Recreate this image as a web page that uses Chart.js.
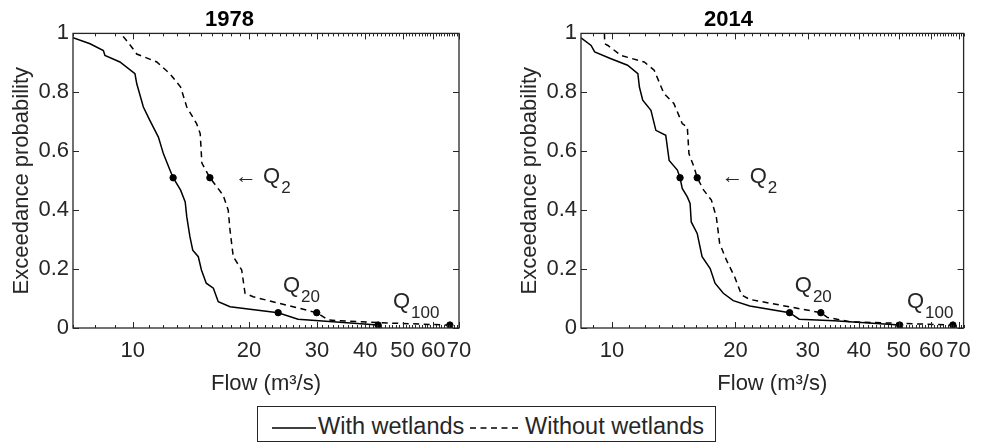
<!DOCTYPE html>
<html>
<head>
<meta charset="utf-8">
<script src="https://cdn.jsdelivr.net/npm/chart.js@4.4.1/dist/chart.umd.min.js"></script>
<style>
  body { margin: 0; background: #fff; width: 981px; height: 444px; position: relative; overflow: hidden;
         font-family: 'Liberation Sans', Arial, sans-serif; color: #262626; }
  canvas { position: absolute; top: 0; }
  #c1978 { left: 0; }
  #c2014 { left: 490px; }
  #legend { position: absolute; left: 257px; top: 406px; width: 459px; height: 36px; box-sizing: border-box;
            border: 1px solid #262626; background: #fff; font-size: 23.5px; }
  #legend span, #legend svg { position: absolute; }
  #legend span { top: 6px; white-space: nowrap; }
</style>
</head>
<body>
<canvas id="c1978" width="490" height="400"></canvas>
<canvas id="c2014" width="491" height="400"></canvas>
<div id="legend">
  <svg style="left:14px;top:19px" width="44" height="4"><line x1="0" y1="2" x2="44" y2="2" stroke="#000" stroke-width="1.4"/></svg>
  <span style="left:60px">With wetlands</span>
  <svg style="left:212px;top:19px" width="51" height="4"><line x1="0" y1="2" x2="51" y2="2" stroke="#000" stroke-width="1.4" stroke-dasharray="6,4.5"/></svg>
  <span style="left:267px">Without wetlands</span>
</div>
<script>
// 1978
const flow78With = [7.0, 7.75, 8.39, 8.47, 9.26, 10.13, 10.24, 10.65, 11.07, 11.65, 12.0, 12.48, 12.72, 13.3, 13.67, 13.8, 14.06, 14.3, 14.78, 15.06, 15.5, 16.17, 16.65, 17.86, 23.8, 26.8, 43.2];
const prob78With = [0.985, 0.965, 0.942, 0.925, 0.903, 0.863, 0.829, 0.75, 0.705, 0.648, 0.592, 0.536, 0.51, 0.468, 0.428, 0.377, 0.31, 0.264, 0.242, 0.197, 0.152, 0.135, 0.089, 0.072, 0.052, 0.03, 0.01];
const flow78Without = [9.44, 9.93, 10.24, 11.54, 12.48, 13.3, 13.8, 14.63, 14.95, 15.1, 15.84, 17.14, 17.67, 17.86, 18.21, 19.15, 19.53, 20.5, 29.96, 32.1, 43.5, 66.3];
const prob78Without = [0.99, 0.954, 0.93, 0.903, 0.863, 0.818, 0.75, 0.694, 0.66, 0.56, 0.51, 0.451, 0.4, 0.332, 0.242, 0.197, 0.118, 0.106, 0.052, 0.027, 0.018, 0.01];
const q78With = [12.72, 23.8, 43.2];
const q78Without = [15.84, 29.96, 66.3];

// 2014
const flow14With = [8.4, 8.89, 9.07, 9.94, 10.91, 11.56, 11.66, 11.88, 12.44, 12.79, 13.52, 13.78, 14.43, 14.65, 14.83, 15.26, 15.5, 15.6, 16.13, 16.58, 17.35, 17.83, 18.68, 19.75, 21.67, 27.1, 28.6, 34.8, 50.3];
const prob14With = [0.985, 0.959, 0.937, 0.914, 0.892, 0.863, 0.818, 0.773, 0.739, 0.671, 0.654, 0.569, 0.536, 0.51, 0.474, 0.445, 0.423, 0.36, 0.321, 0.242, 0.202, 0.152, 0.118, 0.093, 0.075, 0.052, 0.03, 0.025, 0.01];
const flow14Without = [9.58, 9.6, 9.77, 10.52, 11.98, 12.67, 13.38, 14.15, 14.83, 15.26, 15.4, 15.84, 16.13, 16.73, 17.47, 17.96, 18.3, 19.0, 19.9, 20.7, 21.67, 32.3, 33.5, 38.1, 67.8];
const prob14Without = [1.0, 0.965, 0.959, 0.925, 0.903, 0.875, 0.796, 0.762, 0.694, 0.682, 0.592, 0.547, 0.51, 0.468, 0.434, 0.377, 0.287, 0.231, 0.174, 0.112, 0.097, 0.052, 0.036, 0.021, 0.01];
const q14With = [14.65, 27.1, 50.3];
const q14Without = [16.13, 32.3, 67.8];

// exceedance of Q2, Q20, Q100 as drawn
const qProb = [0.51, 0.052, 0.01];

const xTicks = [10, 20, 30, 40, 50, 60, 70];
const yTicks = [0, 0.2, 0.4, 0.6, 0.8, 1];

const ink = '#262626';
Chart.defaults.font.family = "'Liberation Sans', Arial, sans-serif";
Chart.defaults.font.size = 22;
Chart.defaults.color = ink;

function pts(xs, ys) {
  return xs.map((x, i) => ({ x: x, y: ys[i] }));
}

// MATLAB-like box with inward ticks
const frame = {
  id: 'frame',
  afterDraw(chart) {
    const { ctx, chartArea: a, scales: { x, y } } = chart;
    ctx.save();
    ctx.strokeStyle = ink;
    ctx.lineWidth = 1;
    ctx.beginPath();
    for (let v = Math.ceil(x.min); v <= Math.floor(x.max); v++) {
      const px = Math.round(x.getPixelForValue(v)) + 0.5;
      const len = v % 10 === 0 ? 6 : 3;
      ctx.moveTo(px, a.bottom); ctx.lineTo(px, a.bottom - len);
      ctx.moveTo(px, a.top); ctx.lineTo(px, a.top + len);
    }
    yTicks.forEach(v => {
      const py = Math.round(y.getPixelForValue(v)) + 0.5;
      ctx.moveTo(a.left, py); ctx.lineTo(a.left + 6, py);
      ctx.moveTo(a.right, py); ctx.lineTo(a.right - 6, py);
    });
    ctx.stroke();
    ctx.lineWidth = 1.3;
    ctx.strokeRect(a.left, a.top, a.right - a.left, a.bottom - a.top);
    ctx.restore();
  }
};

// Q labels placed in data coordinates
const qLabels = {
  id: 'qLabels',
  afterDatasetsDraw(chart, args, opts) {
    const { ctx, scales: { x, y } } = chart;
    ctx.save();
    ctx.fillStyle = ink;
    ctx.textBaseline = 'middle';
    opts.items.forEach(it => {
      const px = x.getPixelForValue(it.x);
      const py = y.getPixelForValue(it.y);
      ctx.font = "22px 'Liberation Sans', 'DejaVu Sans', sans-serif";
      ctx.fillText(it.text, px, py);
      const w = ctx.measureText(it.text).width;
      ctx.font = "17px 'Liberation Sans', sans-serif";
      ctx.fillText(it.sub, px + w + 1, py + 11);
    });
    ctx.restore();
  }
};

function makeChart(id, title, xMin, xMax, withX, withY, woX, woY, qWith, qWithout, yPad, rightPad, labels) {
  return new Chart(document.getElementById(id), {
    type: 'scatter',
    data: {
      datasets: [
        { label: 'With wetlands', data: pts(withX, withY), showLine: true, borderColor: '#000',
          borderWidth: 1.5, pointRadius: 0 },
        { label: 'Without wetlands', data: pts(woX, woY), showLine: true, borderColor: '#000',
          borderWidth: 1.5, borderDash: [6, 4.5], pointRadius: 0 },
        { label: 'Q with', data: pts(qWith, qProb), backgroundColor: '#000', borderColor: '#000', pointRadius: 3.2 },
        { label: 'Q without', data: pts(qWithout, qProb), backgroundColor: '#000', borderColor: '#000', pointRadius: 3.2 }
      ]
    },
    options: {
      responsive: false,
      animation: false,
      layout: { padding: { left: 0, right: rightPad, top: 0, bottom: 0 } },
      plugins: {
        legend: { display: false },
        tooltip: { enabled: false },
        title: { display: true, text: title, color: '#000', font: { size: 22, weight: 'bold' },
                 padding: { top: 7, bottom: 0 } },
        qLabels: { items: labels }
      },
      scales: {
        x: {
          type: 'logarithmic', min: xMin, max: xMax,
          afterBuildTicks: s => { s.ticks = xTicks.map(v => ({ value: v })); },
          afterFit: s => { s.height = 72; },
          grid: { display: false, drawTicks: false },
          border: { display: false },
          ticks: { autoSkip: false, maxRotation: 0, padding: 10, callback: v => String(v) },
          title: { display: true, text: 'Flow (m³/s)', padding: { top: 0, bottom: 3 } }
        },
        y: {
          min: 0, max: 1,
          afterBuildTicks: s => { s.ticks = yTicks.map(v => ({ value: v })); },
          afterFit: s => { s.width = yPad; },
          grid: { display: false, drawTicks: false },
          border: { display: false },
          ticks: { padding: 4, callback: v => String(v) },
          title: { display: true, text: 'Exceedance probability', padding: { top: yPad - 64, bottom: 0 } }
        }
      }
    },
    plugins: [frame, qLabels]
  });
}

makeChart('c1978', '1978', 7, 70, flow78With, prob78With, flow78Without, prob78Without, q78With, q78Without, 73, 31, [
  { x: 18.4, y: 0.512, text: '\u2190 Q', sub: '2' },
  { x: 24.5, y: 0.142, text: 'Q', sub: '20' },
  { x: 47.2, y: 0.088, text: 'Q', sub: '100' }
]);

makeChart('c2014', '2014', 8.4, 72, flow14With, prob14With, flow14Without, prob14Without, q14With, q14Without, 91, 14, [
  { x: 18.5, y: 0.512, text: '\u2190 Q', sub: '2' },
  { x: 27.9, y: 0.142, text: 'Q', sub: '20' },
  { x: 52.4, y: 0.088, text: 'Q', sub: '100' }
]);
</script>
</body>
</html>
